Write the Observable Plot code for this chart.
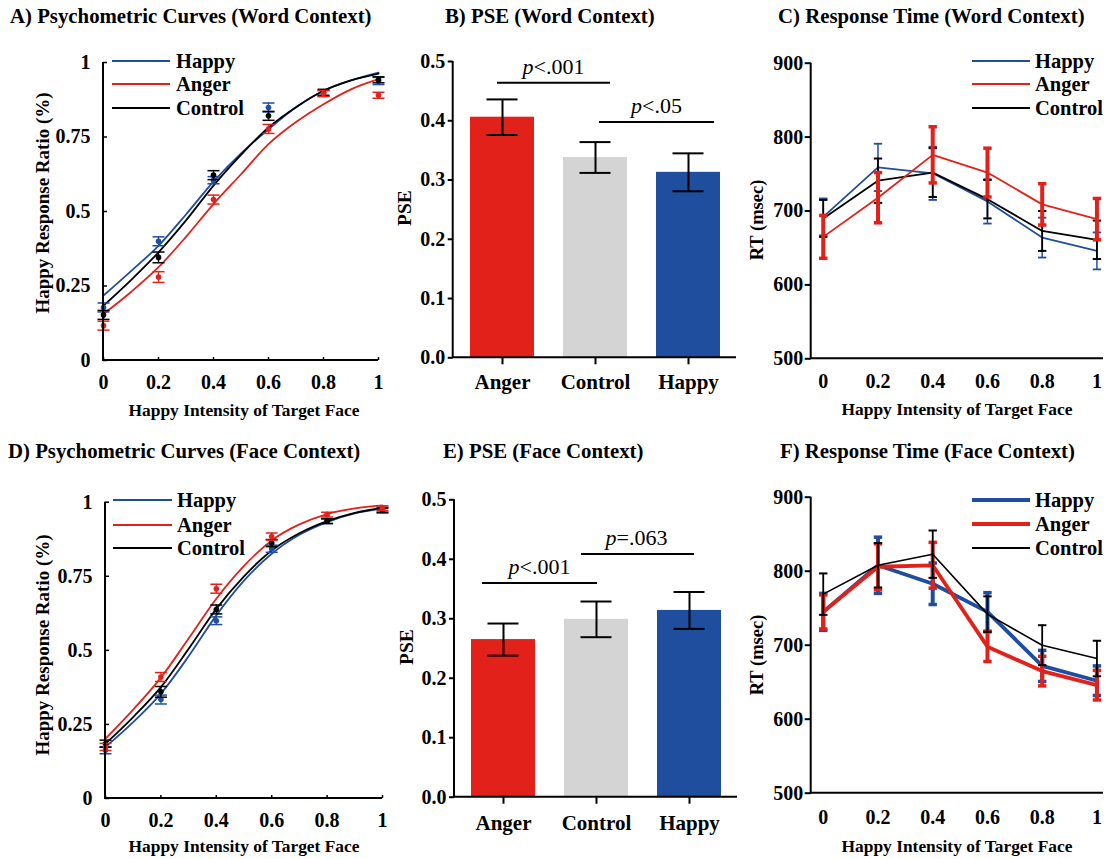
<!DOCTYPE html>
<html>
<head>
<meta charset="utf-8">
<script src="https://cdn.jsdelivr.net/npm/d3@7"></script>
<script src="https://cdn.jsdelivr.net/npm/@observablehq/plot@0.6"></script>
<style>
  body { margin: 0; background: #fff; }
  #root { position: relative; width: 1111px; height: 859px; overflow: hidden; background: #fff;
          font-family: "Liberation Serif", "Times New Roman", serif; font-weight: bold; color: #000; }
  .abs { position: absolute; white-space: nowrap; line-height: 1; }
</style>
</head>
<body>
<div id="root"></div>
<script>
// ---------------- DATA ----------------
const intensities = [0, 0.2, 0.4, 0.6, 0.8, 1];
const curveGrid = [0, 0.1, 0.2, 0.3, 0.4, 0.5, 0.6, 0.7, 0.8, 0.9, 1];
const conditions = ["Happy", "Anger", "Control"];
const pseCategories = ["Anger", "Control", "Happy"];

// A) Psychometric (word context): observed means and SE
const wordHappyObs   = [0.178, 0.400, 0.605, 0.849, 0.896, 0.938];
const wordAngerObs   = [0.117, 0.280, 0.540, 0.777, 0.896, 0.890];
const wordControlObs = [0.153, 0.346, 0.622, 0.821, 0.900, 0.942];
const wordHappyErr   = [0.015, 0.015, 0.012, 0.015, 0.010, 0.012];
const wordAngerErr   = [0.015, 0.018, 0.015, 0.015, 0.010, 0.010];
const wordControlErr = [0.015, 0.018, 0.015, 0.015, 0.010, 0.010];
const wordHappyFit   = [0.218, 0.300, 0.385, 0.490, 0.600, 0.695, 0.776, 0.850, 0.905, 0.940, 0.966];
const wordAngerFit   = [0.156, 0.230, 0.313, 0.415, 0.525, 0.625, 0.726, 0.800, 0.860, 0.910, 0.944];
const wordControlFit = [0.184, 0.270, 0.363, 0.470, 0.587, 0.690, 0.782, 0.850, 0.905, 0.940, 0.963];

// D) Psychometric (face context)
const faceHappyObs   = [0.163, 0.334, 0.600, 0.843, 0.936, 0.975];
const faceAngerObs   = [0.174, 0.410, 0.708, 0.884, 0.958, 0.980];
const faceControlObs = [0.185, 0.360, 0.638, 0.862, 0.936, 0.972];
const faceHappyErr   = [0.012, 0.015, 0.013, 0.012, 0.008, 0.008];
const faceAngerErr   = [0.012, 0.015, 0.015, 0.012, 0.008, 0.008];
const faceControlErr = [0.012, 0.018, 0.015, 0.012, 0.008, 0.008];
const faceHappyFit   = [0.174, 0.258, 0.354, 0.480, 0.618, 0.735, 0.826, 0.890, 0.933, 0.962, 0.978];
const faceAngerFit   = [0.202, 0.300, 0.408, 0.540, 0.674, 0.785, 0.871, 0.925, 0.960, 0.979, 0.989];
const faceControlFit = [0.185, 0.275, 0.376, 0.505, 0.640, 0.750, 0.837, 0.895, 0.936, 0.964, 0.981];

// B) / E) PSE bars
const wordPSE    = [0.406, 0.338, 0.313];
const wordPSEErr = [0.030, 0.026, 0.032];
const facePSE    = [0.265, 0.299, 0.314];
const facePSEErr = [0.027, 0.030, 0.031];
const wordSig = [
  {from: "Anger", to: "Control", y: 0.464, label: "p<.001"},
  {from: "Control", to: "Happy", y: 0.398, label: "p<.05"}
];
const faceSig = [
  {from: "Anger", to: "Control", y: 0.360, label: "p<.001"},
  {from: "Control", to: "Happy", y: 0.409, label: "p=.063"}
];

// C) / F) Response time (msec)
const wordRTHappy      = [692, 759, 751, 713, 664, 646];
const wordRTAnger      = [665, 718, 776, 752, 709, 689];
const wordRTControl    = [690, 741, 752, 716, 673, 661];
const wordRTHappyErr   = [25, 32, 36, 30, 27, 25];
const wordRTAngerErr   = [29, 34, 38, 33, 28, 28];
const wordRTControlErr = [25, 30, 33, 26, 27, 26];
const faceRTHappy      = [745, 808, 783, 745, 672, 652];
const faceRTAnger      = [745, 806, 808, 698, 665, 646];
const faceRTControl    = [769, 808, 823, 742, 700, 682];
const faceRTHappyErr   = [25, 38, 28, 26, 21, 20];
const faceRTAngerErr   = [23, 31, 31, 20, 20, 20];
const faceRTControlErr = [28, 30, 32, 24, 27, 24];

const ratioTicks = [0, 0.25, 0.5, 0.75, 1];
const pseTicks = [0, 0.1, 0.2, 0.3, 0.4, 0.5];
const rtTicks = [500, 600, 700, 800, 900];

// ---------------- STYLE ----------------
const FONT = '"Liberation Serif", "Times New Roman", serif';
const RED = "#E3211B", BLUE = "#1F4E9E", GRAY = "#D4D4D4", BLACK = "#000000";
const condColor = {Happy: BLUE, Anger: RED, Control: BLACK};
const root = document.getElementById("root");

const rowsOf = (xs, ys, es, cond) => xs.map((x, i) => ({x, y: ys[i], e: es ? es[i] : 0, cond}));
const capSymbol = {draw(ctx, size) { const w = Math.sqrt(size / Math.PI); ctx.moveTo(-w, 0); ctx.lineTo(w, 0); }};

function frameLines(sw = 2) {
  return (index, scales, values, dims) => {
    const {width, height, marginLeft, marginRight, marginTop, marginBottom} = dims;
    const g = d3.create("svg:g").attr("fill", "none").attr("stroke", "black").attr("stroke-width", sw);
    g.append("path").attr("d", `M${marginLeft},${marginTop}V${height - marginBottom}H${width - marginRight}`);
    return g.node();
  };
}

function errMarks(rows, color, {sw = 1.5, capR = 4, capSW = 1.5} = {}) {
  const caps = rows.flatMap(d => [{x: d.x, y: d.y - d.e}, {x: d.x, y: d.y + d.e}]);
  return [
    Plot.ruleX(rows, {x: "x", y1: d => d.y - d.e, y2: d => d.y + d.e, stroke: color, strokeWidth: sw}),
    Plot.dot(caps, {x: "x", y: "y", symbol: capSymbol, r: capR, stroke: color, fill: "none", strokeWidth: capSW})
  ];
}

const baseStyle = {background: "transparent", overflow: "visible", fontFamily: FONT, fontSize: "20px", fontWeight: "bold", color: "black"};

function place(svg, left, top) {
  svg.style.position = "absolute";
  svg.style.left = left + "px";
  svg.style.top = top + "px";
  svg.style.maxWidth = "none";
  root.append(svg);
}

function addText(str, {left, cx, cy, size = 19, rotate = false, weight = "bold"}) {
  const el = document.createElement("div");
  el.className = "abs";
  el.textContent = str;
  el.style.fontSize = size + "px";
  el.style.fontWeight = weight;
  el.style.top = cy + "px";
  if (cx !== undefined) {
    el.style.left = cx + "px";
    el.style.transform = rotate ? "translate(-50%,-50%) rotate(-90deg)" : "translate(-50%,-50%)";
  } else {
    el.style.left = left + "px";
    el.style.transform = "translateY(-50%)";
  }
  root.append(el);
}

function legend({x1, x2, tx, ys, widths}) {
  conditions.forEach((c, i) => {
    const line = document.createElement("div");
    line.className = "abs";
    Object.assign(line.style, {left: x1 + "px", top: (ys[i] - widths[i] / 2) + "px", width: (x2 - x1) + "px",
      height: widths[i] + "px", background: condColor[c]});
    root.append(line);
    addText(c, {left: tx, cy: ys[i], size: 20.5});
  });
}

function italicP(svg) {
  const ns = "http://www.w3.org/2000/svg";
  svg.querySelectorAll("text").forEach(t => {
    const s = t.textContent;
    if (/^p[<=]/.test(s)) {
      t.textContent = "";
      const a = document.createElementNS(ns, "tspan");
      a.setAttribute("font-style", "italic");
      a.textContent = "p";
      const b = document.createElementNS(ns, "tspan");
      b.textContent = s.slice(1);
      t.append(a, b);
    }
  });
}

// ---------------- PSYCHOMETRIC PANELS ----------------
function psychPanel({obs, errs, fits, left, top, width, height, margins}) {
  const marks = [];
  const order = ["Happy", "Control", "Anger"];
  order.forEach(c => {
    const i = conditions.indexOf(c);
    marks.push(Plot.line(rowsOf(curveGrid, fits[i], null, c), {x: "x", y: "y", stroke: condColor[c], strokeWidth: 1.8, curve: "monotone-x"}));
  });
  order.forEach(c => {
    const i = conditions.indexOf(c);
    const rows = rowsOf(intensities, obs[i], errs[i], c);
    marks.push(...errMarks(rows, condColor[c], {sw: 1.3, capR: 6, capSW: 1.5}));
    marks.push(Plot.dot(rows, {x: "x", y: "y", r: 2.8, fill: condColor[c], stroke: "none"}));
  });
  const svg = Plot.plot({
    width, height, ...margins,
    style: baseStyle,
    x: {domain: [0, 1], label: null},
    y: {domain: [0, 1], label: null},
    marks: [
      ...marks,
      Plot.axisX({ticks: intensities, tickFormat: d => String(d), tickSize: -3, tickPadding: 17, strokeWidth: 1.5, fontSize: 20, label: null}),
      Plot.axisY({ticks: ratioTicks, tickFormat: d => String(d), tickSize: -4, tickPadding: 17, strokeWidth: 1.5, fontSize: 20, label: null}),
      frameLines(2)
    ]
  });
  place(svg, left, top);
}

psychPanel({
  obs: [wordHappyObs, wordAngerObs, wordControlObs],
  errs: [wordHappyErr, wordAngerErr, wordControlErr],
  fits: [wordHappyFit, wordAngerFit, wordControlFit],
  left: 0, top: 0, width: 390, height: 430,
  margins: {marginLeft: 103, marginRight: 12, marginTop: 62, marginBottom: 70}
});
psychPanel({
  obs: [faceHappyObs, faceAngerObs, faceControlObs],
  errs: [faceHappyErr, faceAngerErr, faceControlErr],
  fits: [faceHappyFit, faceAngerFit, faceControlFit],
  left: 0, top: 430, width: 390, height: 429,
  margins: {marginLeft: 105, marginRight: 8, marginTop: 71.7, marginBottom: 61}
});

// ---------------- PSE PANELS ----------------
function psePanel({values, errs, sig, sigStyle, left, top, width, height, margins, xTickPadding}) {
  const rows = pseCategories.map((c, i) => ({cat: c, v: values[i], e: errs[i]}));
  const svg = Plot.plot({
    width, height, ...margins,
    style: baseStyle,
    x: {domain: pseCategories, paddingInner: 0.316, paddingOuter: 0.173, label: null},
    y: {domain: [0, 0.5], label: null},
    marks: [
      Plot.barY(rows, {x: "cat", y: "v", fill: d => ({Anger: RED, Control: GRAY, Happy: BLUE})[d.cat]}),
      Plot.ruleX(rows, {x: "cat", y1: d => d.v - d.e, y2: d => d.v + d.e, stroke: "black", strokeWidth: 2}),
      Plot.tickY(rows, {x: "cat", y: d => d.v - d.e, stroke: "black", strokeWidth: 2, insetLeft: 16.5, insetRight: 16.5}),
      Plot.tickY(rows, {x: "cat", y: d => d.v + d.e, stroke: "black", strokeWidth: 2, insetLeft: 16.5, insetRight: 16.5}),
      ...sig.map((s, i) => Plot.ruleY([s], {y: "y", x1: "from", x2: "to", stroke: "black", strokeWidth: 2,
        insetLeft: sigStyle[i].il, insetRight: sigStyle[i].ir})),
      ...sig.map((s, i) => Plot.text([s], {x: "to", y: "y", text: "label", dx: sigStyle[i].dx, dy: -16,
        fontSize: 22, fontWeight: "normal", fill: "black"})),
      Plot.axisX({tickSize: 7, tickPadding: xTickPadding, strokeWidth: 2, fontSize: 21, label: null}),
      Plot.axisY({ticks: pseTicks, tickFormat: d3.format(".1f"), tickSize: 5, tickPadding: 3, strokeWidth: 2, fontSize: 20, label: null}),
      frameLines(2)
    ]
  });
  italicP(svg);
  place(svg, left, top);
}

psePanel({
  values: wordPSE, errs: wordPSEErr, sig: wordSig,
  sigStyle: [{il: 27, ir: 17, dx: -42}, {il: 36, ir: 6, dx: -32}],
  left: 380, top: 0, width: 371, height: 430,
  margins: {marginLeft: 72.7, marginRight: 15, marginTop: 61, marginBottom: 72.7},
  xTickPadding: 9
});
psePanel({
  values: facePSE, errs: facePSEErr, sig: faceSig,
  sigStyle: [{il: 11, ir: 31, dx: -57}, {il: 17, ir: 27, dx: -53}],
  left: 380, top: 430, width: 371, height: 429,
  margins: {marginLeft: 74, marginRight: 14, marginTop: 69.3, marginBottom: 62.3},
  xTickPadding: 11
});

// ---------------- RT PANELS ----------------
function rtPanel({vals, errs, order, lineW, errW, capW, left, top, width, height, margins, xTickPadding}) {
  const marks = [];
  order.forEach(c => {
    const i = conditions.indexOf(c);
    const rows = rowsOf(intensities, vals[i], errs[i], c);
    marks.push(Plot.line(rows, {x: "x", y: "y", stroke: condColor[c], strokeWidth: lineW[c]}));
    marks.push(...errMarks(rows, condColor[c], {sw: errW[c], capR: 4.2, capSW: capW[c]}));
  });
  const svg = Plot.plot({
    width, height, ...margins,
    style: baseStyle,
    x: {domain: [-0.044, 1.024], label: null},
    y: {domain: [500, 900], label: null},
    marks: [
      ...marks,
      Plot.axisX({ticks: intensities, tickFormat: d => String(d), tickSize: 0, tickPadding: xTickPadding, fontSize: 20, label: null}),
      Plot.axisY({ticks: rtTicks, tickSize: 6, tickPadding: 2, strokeWidth: 2, fontSize: 20, label: null}),
      frameLines(2)
    ]
  });
  place(svg, left, top);
}

rtPanel({
  vals: [wordRTHappy, wordRTAnger, wordRTControl],
  errs: [wordRTHappyErr, wordRTAngerErr, wordRTControlErr],
  order: ["Happy", "Control", "Anger"],
  lineW: {Happy: 1.8, Anger: 1.8, Control: 1.8},
  errW: {Happy: 1.5, Anger: 4, Control: 1.8},
  capW: {Happy: 1.8, Anger: 3.5, Control: 2},
  left: 740, top: 0, width: 371, height: 430,
  margins: {marginLeft: 70.7, marginRight: 8, marginTop: 62.7, marginBottom: 71.7},
  xTickPadding: 15
});
rtPanel({
  vals: [faceRTHappy, faceRTAnger, faceRTControl],
  errs: [faceRTHappyErr, faceRTAngerErr, faceRTControlErr],
  order: ["Happy", "Anger", "Control"],
  lineW: {Happy: 3.8, Anger: 3.8, Control: 1.6},
  errW: {Happy: 4, Anger: 4, Control: 1.8},
  capW: {Happy: 3.5, Anger: 3.5, Control: 2},
  left: 740, top: 430, width: 371, height: 429,
  margins: {marginLeft: 70.7, marginRight: 8, marginTop: 66.7, marginBottom: 66.3},
  xTickPadding: 17
});

// ---------------- TITLES, AXIS TITLES, LEGENDS ----------------
addText("A) Psychometric Curves (Word Context)", {left: 10, cy: 16, size: 20.8});
addText("B) PSE (Word Context)", {left: 445, cy: 16, size: 20.8});
addText("C) Response Time (Word Context)", {left: 778, cy: 16, size: 20.8});
addText("D) Psychometric Curves (Face Context)", {left: 8, cy: 451, size: 20.8});
addText("E) PSE (Face Context)", {left: 443, cy: 451, size: 20.8});
addText("F) Response Time (Face Context)", {left: 780, cy: 451, size: 20.8});

addText("Happy Intensity of Target Face", {cx: 244, cy: 411, size: 17.4});
addText("Happy Intensity of Target Face", {cx: 957, cy: 410, size: 17.4});
addText("Happy Intensity of Target Face", {cx: 244, cy: 847, size: 17.4});
addText("Happy Intensity of Target Face", {cx: 957, cy: 847, size: 17.4});

addText("Happy Response Ratio (%)", {cx: 42, cy: 203, size: 19, rotate: true});
addText("Happy Response Ratio (%)", {cx: 42, cy: 645, size: 19, rotate: true});
addText("PSE", {cx: 405, cy: 208, size: 19.5, rotate: true});
addText("PSE", {cx: 407, cy: 647, size: 19.5, rotate: true});
addText("RT (msec)", {cx: 757, cy: 220, size: 18.5, rotate: true});
addText("RT (msec)", {cx: 757, cy: 655, size: 18.5, rotate: true});

legend({x1: 112, x2: 170, tx: 176, ys: [61, 84, 108], widths: [2, 2, 2]});
legend({x1: 113, x2: 172, tx: 177, ys: [500, 525, 548], widths: [2, 2, 2]});
legend({x1: 972, x2: 1030, tx: 1035, ys: [61, 84, 108], widths: [2, 2, 2]});
legend({x1: 972, x2: 1030, tx: 1035, ys: [500, 524, 548], widths: [4, 4, 2]});
</script>
</body>
</html>
